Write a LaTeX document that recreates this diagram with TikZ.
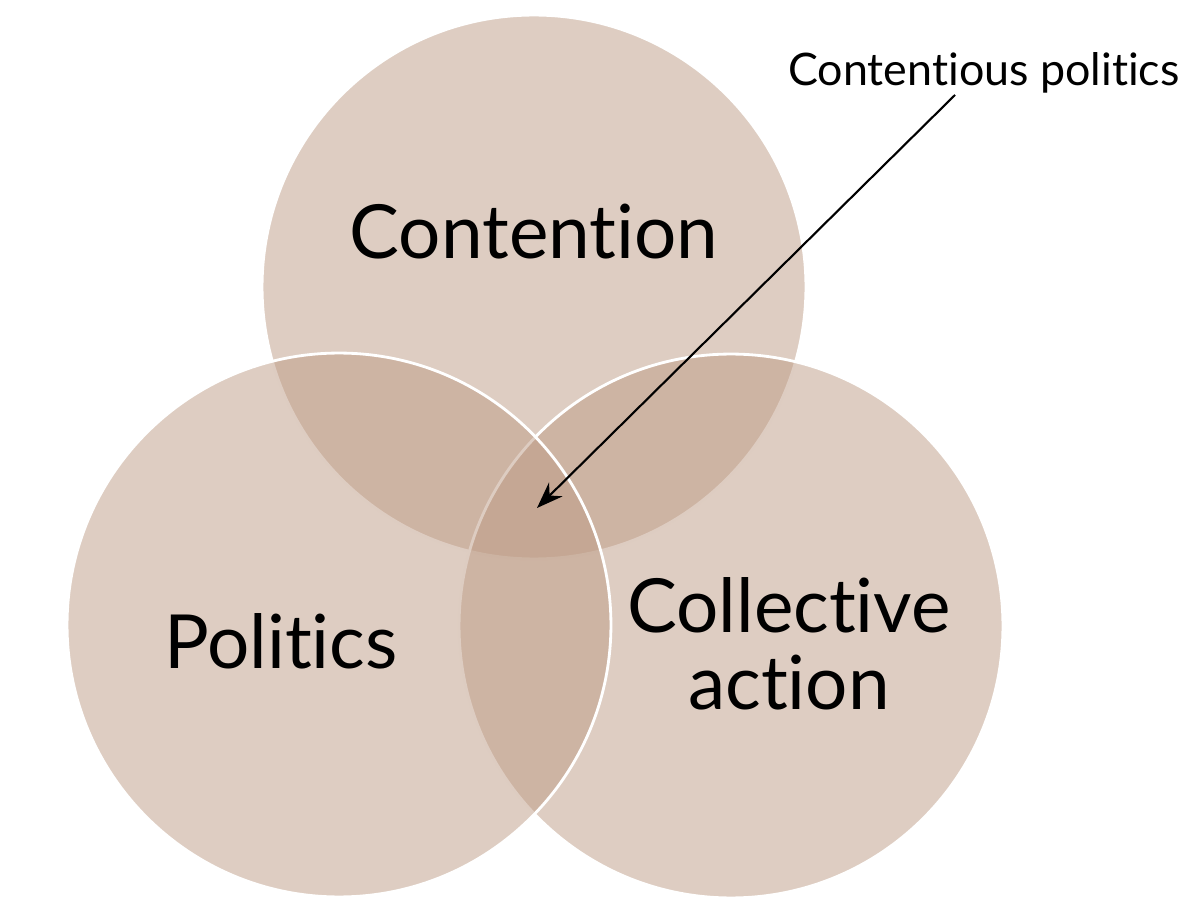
\documentclass[tikz,border=0pt]{standalone}
\usepackage{fontspec}
\setmainfont{Lato}[Ligatures=NoCommon]
\usetikzlibrary{arrows.meta}
\definecolor{clay}{RGB}{189,155,133}

\begin{document}
\begin{tikzpicture}[
    x=0.02cm, y=-0.02cm,
    venn/.style={circle, draw=white, line width=1.6pt, fill=clay, fill opacity=0.5, inner sep=0pt, minimum size=10.88cm},
    biglabel/.style={font=\fontsize{42.5}{44}\selectfont, align=center},
    arrow/.style={-{Stealth[length=15pt, width=11pt]}, line width=1.2pt}
]
\useasboundingbox (0,0) rectangle (1200,911);

% Circles
\node[venn] (contention) at (534,287) {};
\node[venn] (collective) at (731,626) {};
\node[venn] (politics) at (339,625) {};

% Labels
\node[biglabel] (contentionlbl) at (534,232) {Contention};
\node[biglabel] (politicslbl) at (281,641) {Politics};
\node[biglabel] (collectivelbl) at (789,644) {Collective\\action};
\node[font=\fontsize{25.5}{28}\selectfont] (cplbl) at (984,73) {Contentious politics};

% Arrow into the triple overlap
\coordinate (tail) at (955,95);
\coordinate (core) at (537,508);
\draw[arrow] (tail) -- (core);

\end{tikzpicture}
\end{document}
